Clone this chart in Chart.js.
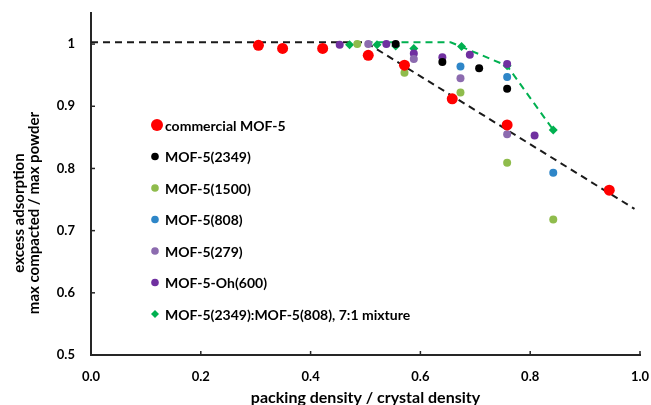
<!DOCTYPE html>
<html>
<head>
<meta charset="utf-8">
<script src="https://cdn.jsdelivr.net/npm/chart.js@4.4.0/dist/chart.umd.min.js"></script>
<style>
  html, body { margin: 0; padding: 0; background: #fff; }
</style>
</head>
<body>
<canvas id="chart" width="651" height="405"></canvas>
<script>
// values
const xTicks = [0, 0.2, 0.4, 0.6, 0.8, 1.0];
const yTicks = [0.5, 0.6, 0.7, 0.8, 0.9, 1.0];

const commercialX = [0.305, 0.349, 0.422, 0.505, 0.571, 0.658, 0.758, 0.944];
const commercialY = [0.998, 0.993, 0.993, 0.982, 0.966, 0.912, 0.870, 0.765];

const mof2349X = [0.555, 0.640, 0.707, 0.758];
const mof2349Y = [1.000, 0.971, 0.961, 0.928];

const mof1500X = [0.485, 0.571, 0.673, 0.758, 0.842];
const mof1500Y = [1.000, 0.954, 0.922, 0.809, 0.718];

const mof808X = [0.673, 0.758, 0.842];
const mof808Y = [0.964, 0.947, 0.793];

const mof279X = [0.505, 0.588, 0.673, 0.758];
const mof279Y = [1.000, 0.976, 0.945, 0.855];

const ohX = [0.453, 0.538, 0.588, 0.640, 0.690, 0.758, 0.808];
const ohY = [0.999, 1.000, 0.985, 0.979, 0.983, 0.968, 0.853];

const mixX = [0.471, 0.521, 0.555, 0.588, 0.675, 0.758, 0.842];
const mixY = [0.999, 0.999, 0.997, 0.993, 0.996, 0.965, 0.862];

// dashed guide lines
const guideBlackX = [0, 0.5, 0.99];
const guideBlackY = [1.003, 1.003, 0.735];
const guideGreenX = [0.5, 0.655, 0.758, 0.842];
const guideGreenY = [1.003, 1.003, 0.965, 0.862];

function pts(xs, ys) {
    return xs.map((x, i) => ({ x: x, y: ys[i] }));
}

function scatter(label, xs, ys, color, radius, style) {
    return {
        type: 'scatter',
        label: label,
        data: pts(xs, ys),
        backgroundColor: color,
        borderColor: color,
        borderWidth: 0,
        pointRadius: radius,
        pointHoverRadius: radius,
        pointStyle: style || 'circle',
        showInLegend: true
    };
}

function guide(xs, ys, color) {
    return {
        type: 'line',
        data: pts(xs, ys),
        borderColor: color,
        borderWidth: 2,
        borderDash: [7, 5],
        pointRadius: 0,
        fill: false,
        tension: 0,
        showInLegend: false
    };
}

const datasets = [
    scatter('commercial MOF-5', commercialX, commercialY, '#FF0000', 5.5),
    scatter('MOF-5(2349)', mof2349X, mof2349Y, '#000000', 4),
    scatter('MOF-5(1500)', mof1500X, mof1500Y, '#8FBC4C', 4),
    scatter('MOF-5(808)', mof808X, mof808Y, '#2E86C8', 4),
    scatter('MOF-5(279)', mof279X, mof279Y, '#8C6BAF', 4),
    scatter('MOF-5-Oh(600)', ohX, ohY, '#7030A0', 4),
    scatter('MOF-5(2349):MOF-5(808), 7:1 mixture', mixX, mixY, '#00B050', 4.5, 'rectRot'),
    guide(guideBlackX, guideBlackY, '#1a1a1a'),
    guide(guideGreenX, guideGreenY, '#00B050')
];

const FONT = 'Lato, "Open Sans", sans-serif';

// keep tick-label overflow from shrinking the plot area
function noPad(s) {
    s.paddingTop = 0;
    s.paddingBottom = 0;
    s.paddingLeft = 0;
    s.paddingRight = 0;
}

// legend, axis titles and inward tick marks
const extras = {
    id: 'extras',
    afterDraw(chart) {
        const ctx = chart.ctx;
        const xs = chart.scales.x, ys = chart.scales.y;
        ctx.save();

        // inward tick marks
        ctx.strokeStyle = '#262626';
        ctx.lineWidth = 1.5;
        xTicks.forEach(v => {
            const px = xs.getPixelForValue(v);
            ctx.beginPath();
            ctx.moveTo(px, ys.bottom);
            ctx.lineTo(px, ys.bottom - 4);
            ctx.stroke();
        });
        yTicks.forEach(v => {
            const py = ys.getPixelForValue(v);
            ctx.beginPath();
            ctx.moveTo(xs.left, py);
            ctx.lineTo(xs.left + 4, py);
            ctx.stroke();
        });

        // legend
        ctx.font = 'bold 14px ' + FONT;
        ctx.textBaseline = 'middle';
        ctx.textAlign = 'left';
        let y = 125;
        chart.data.datasets.forEach(ds => {
            if (!ds.showInLegend) return;
            ctx.fillStyle = ds.backgroundColor;
            if (ds.pointStyle === 'rectRot') {
                ctx.beginPath();
                ctx.moveTo(155, y - 4);
                ctx.lineTo(159, y);
                ctx.lineTo(155, y + 4);
                ctx.lineTo(151, y);
                ctx.closePath();
                ctx.fill();
            } else {
                const r = ds.pointRadius > 5 ? 6 : 3.8;
                ctx.beginPath();
                ctx.arc(ds.pointRadius > 5 ? 157 : 155, y, r, 0, Math.PI * 2);
                ctx.fill();
            }
            ctx.fillStyle = '#000';
            ctx.fillText(ds.label, 165, y + 1);
            y += 31.5;
        });

        // axis titles
        ctx.fillStyle = '#000';
        ctx.font = 'bold 16px ' + FONT;
        ctx.textAlign = 'center';
        ctx.fillText('packing density / crystal density', (xs.left + xs.right) / 2, 398);
        ctx.font = 'bold 15px ' + FONT;
        ctx.translate(26, 213);
        ctx.rotate(-Math.PI / 2);
        ctx.fillText('excess adsorption', 0, -7);
        ctx.fillText('max compacted / max powder', 0, 8);
        ctx.restore();
    }
};

new Chart(document.getElementById('chart'), {
    data: { datasets: datasets },
    options: {
        responsive: false,
        animation: false,
        layout: { autoPadding: false, padding: { top: 13, right: 11, left: 0, bottom: 0 } },
        plugins: {
            legend: { display: false },
            tooltip: { enabled: false }
        },
        scales: {
            x: {
                type: 'linear',
                min: 0,
                max: 1.0,
                afterFit: s => { s.height = 50; noPad(s); },
                afterBuildTicks: s => { s.ticks = xTicks.map(v => ({ value: v })); },
                grid: { display: true, drawOnChartArea: false, drawTicks: false },
                border: { display: true, color: '#262626', width: 2 },
                ticks: {
                    padding: 14,
                    color: '#000',
                    font: { family: FONT, size: 13, weight: 'bold' },
                    callback: v => v.toFixed(1)
                }
            },
            y: {
                type: 'linear',
                min: 0.5,
                max: 1.05,
                afterFit: s => { s.width = 91; noPad(s); },
                afterBuildTicks: s => { s.ticks = yTicks.map(v => ({ value: v })); },
                grid: { display: true, drawOnChartArea: false, drawTicks: false },
                border: { display: true, color: '#262626', width: 2 },
                ticks: {
                    padding: 16,
                    color: '#000',
                    font: { family: FONT, size: 13, weight: 'bold' },
                    callback: v => (v === 1 ? '1' : v.toFixed(1))
                }
            }
        }
    },
    plugins: [extras]
});
</script>
</body>
</html>
